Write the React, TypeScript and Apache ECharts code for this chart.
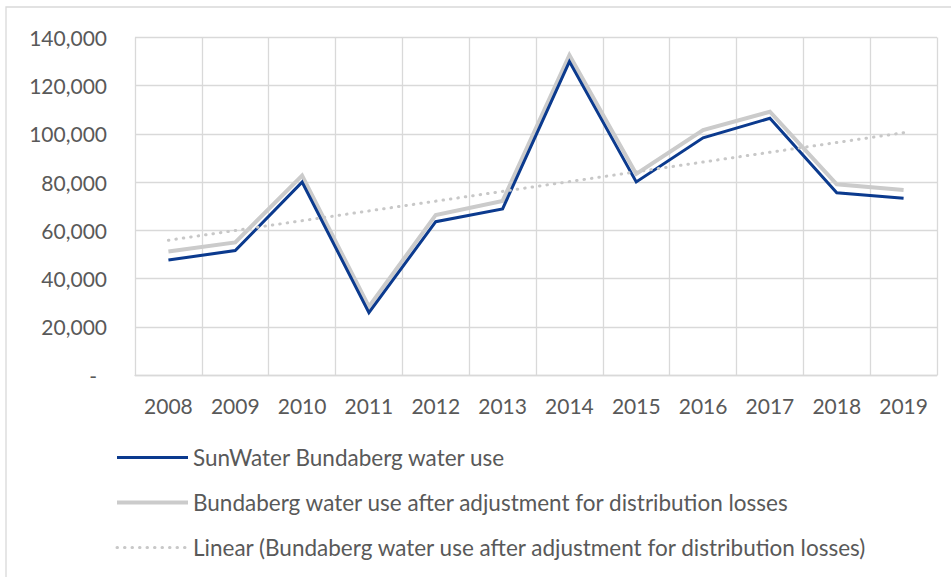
import React, { useEffect, useRef } from "react";
import * as echarts from "echarts";

const years = ["2008", "2009", "2010", "2011", "2012", "2013", "2014", "2015", "2016", "2017", "2018", "2019"];
const sunwaterUse = [47700, 51600, 80000, 25900, 63600, 68900, 130000, 80100, 98400, 106500, 75600, 73300];
const adjustedUse = [51200, 55000, 82700, 28300, 66400, 72200, 132700, 83400, 101600, 109200, 79100, 76700];
const trendUse = [55900, null, null, null, null, null, null, null, null, null, null, 100500];
const yTicks = { min: 0, max: 140000, interval: 20000 };
const seriesNames = [
  "SunWater Bundaberg water use",
  "Bundaberg water use after adjustment for distribution losses",
  "Linear (Bundaberg water use after adjustment for distribution losses)",
];

const FONT = "Lato";
const TEXT = "#595959";
const GRID = "#d9d9d9";
const BLUE = "#0b3a8e";
const GRAY = "#cbcbcb";
const DOT = "#c8c8c8";
const DOTTED: number[] = [0.5, 7];

export default function App() {
  const ref = useRef<HTMLDivElement>(null);
  useEffect(() => {
    if (!ref.current) return;
    const chart = echarts.init(ref.current, null, { renderer: "svg" });
    chart.setOption({
      animation: false,
      backgroundColor: "#ffffff",
      graphic: [
        {
          type: "rect",
          shape: { x: 6, y: 7, width: 960, height: 600 },
          style: { fill: "none", stroke: GRID, lineWidth: 1.3 },
          silent: true,
        },
      ],
      grid: { left: 135, right: 14, top: 37.5, bottom: 202, containLabel: false },
      xAxis: {
        type: "category",
        data: years,
        boundaryGap: true,
        axisTick: { show: false },
        axisLine: { show: true, lineStyle: { color: GRID, width: 1.3 } },
        splitLine: { show: true, lineStyle: { color: GRID, width: 1.3 } },
        axisLabel: { color: TEXT, fontFamily: FONT, fontSize: 21, margin: 20 },
      },
      yAxis: {
        type: "value",
        min: yTicks.min,
        max: yTicks.max,
        interval: yTicks.interval,
        axisLine: { show: false },
        axisTick: { show: false },
        splitLine: { show: true, lineStyle: { color: GRID, width: 1.3 } },
        axisLabel: {
          color: TEXT,
          fontFamily: FONT,
          fontSize: 21,
          margin: 28,
          formatter: (v: number) => (v === 0 ? "{d|-}" : v.toLocaleString("en-US")),
          rich: { d: { color: TEXT, fontFamily: FONT, fontSize: 21, padding: [0, 10, 0, 0] } },
        },
      },
      legend: {
        orient: "vertical",
        left: 115,
        top: 446,
        padding: 0,
        itemWidth: 71,
        itemHeight: 20,
        itemGap: 22,
        itemStyle: { opacity: 0 },
        textStyle: { color: TEXT, fontFamily: FONT, fontSize: 22.5, lineHeight: 20 },
        data: [
          { name: seriesNames[0], lineStyle: { color: BLUE, width: 3 } },
          { name: seriesNames[1], lineStyle: { color: GRAY, width: 4 } },
          { name: seriesNames[2], lineStyle: { color: DOT, width: 3, type: DOTTED, cap: "round" } },
        ],
      },
      series: [
        {
          name: seriesNames[0],
          type: "line",
          data: sunwaterUse,
          symbol: "none",
          lineStyle: { color: BLUE, width: 3, join: "miter" },
          itemStyle: { color: BLUE },
          z: 3,
        },
        {
          name: seriesNames[1],
          type: "line",
          data: adjustedUse,
          symbol: "none",
          lineStyle: { color: GRAY, width: 4, join: "miter" },
          itemStyle: { color: GRAY },
          z: 2,
        },
        {
          name: seriesNames[2],
          type: "line",
          data: trendUse,
          connectNulls: true,
          symbol: "none",
          lineStyle: { color: DOT, width: 3, type: DOTTED, cap: "round" },
          itemStyle: { color: DOT },
          z: 4,
        },
      ],
    });
    return () => chart.dispose();
  }, []);
  return (
    <div
      ref={ref}
      style={{ position: "fixed", left: 0, top: 0, width: 951, height: 577 }}
    />
  );
}
